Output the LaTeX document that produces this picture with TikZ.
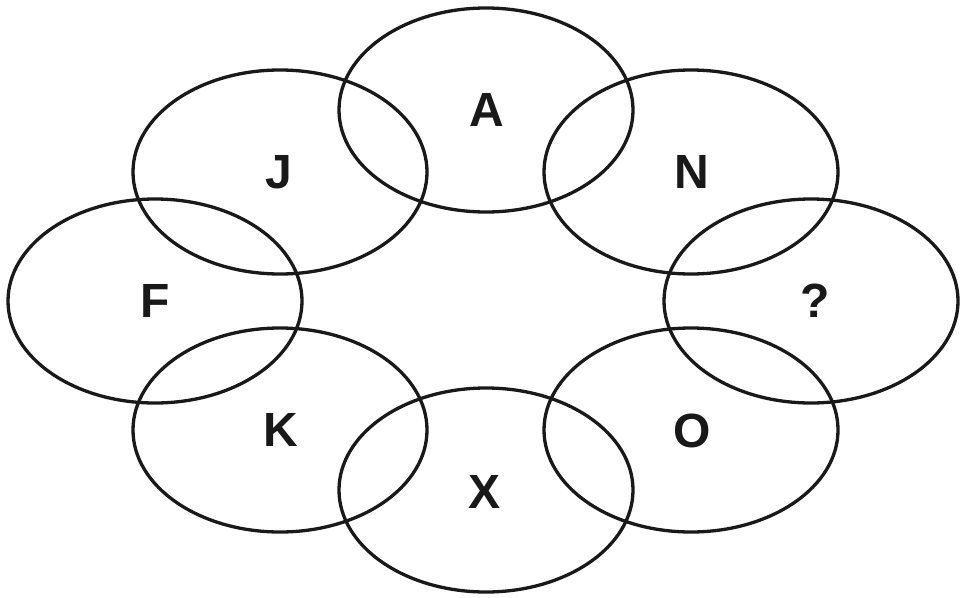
\documentclass[tikz,border=0pt]{standalone}
\usepackage{fontspec}
\setmainfont{Liberation Sans}
\begin{document}
\begin{tikzpicture}[x=1pt,y=-1pt,
  ring/.style={draw=black!90, line width=3.3pt},
  lab/.style={font=\bfseries\fontsize{48}{48}\selectfont, text=black!90, inner sep=0pt}]
\useasboundingbox (0,0) rectangle (960,597);
\coordinate (cA) at (486,110);
\coordinate (cN) at (691,172);
\coordinate (cQ) at (811,301);
\coordinate (cO) at (691,430);
\coordinate (cX) at (486,490);
\coordinate (cK) at (280,430);
\coordinate (cF) at (155,301);
\coordinate (cJ) at (280,172);
\foreach \c in {cA,cN,cQ,cO,cX,cK,cF,cJ}{
  \draw[ring] (\c) ellipse [x radius=147, y radius=102];
}
\node[lab] (A) at (487,110) {A};
\node[lab] (N) at (692,172) {N};
\node[lab] (Q) at (815,301) {?};
\node[lab] (O) at (692,431) {O};
\node[lab] (X) at (485,492) {X};
\node[lab] (K) at (281,430) {K};
\node[lab] (F) at (155,301) {F};
\node[lab] (J) at (279,172) {J};
\end{tikzpicture}
\end{document}
